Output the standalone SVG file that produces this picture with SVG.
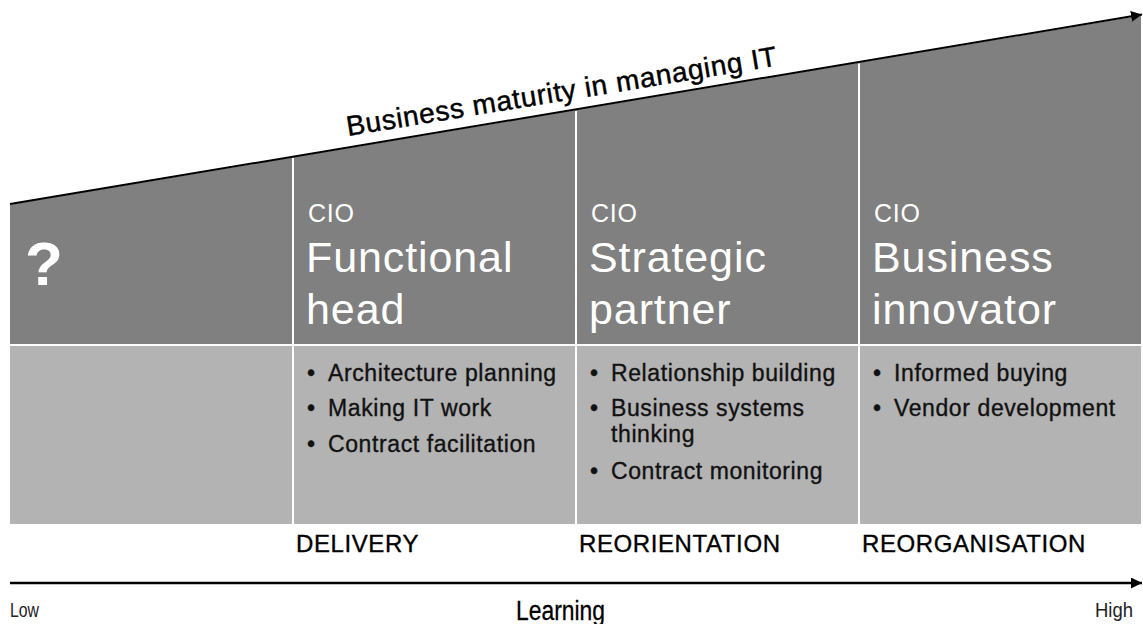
<svg xmlns="http://www.w3.org/2000/svg" width="1143" height="624" viewBox="0 0 1143 624">
<defs>
<marker id="ah" markerUnits="userSpaceOnUse" markerWidth="12" markerHeight="11" refX="11" refY="5.5" orient="auto">
<path d="M0,0 L11,5.5 L0,11 z" fill="#000"/>
</marker>
<style>
text{font-family:"Liberation Sans",Arial,Helvetica,sans-serif}
.w{fill:#fff}
.cio{font-size:25px;letter-spacing:0.8px}
.hd{font-size:43px;letter-spacing:0.9px}
.bl{font-size:23px;fill:#111;letter-spacing:0.6px;stroke:#111;stroke-width:0.35px}
.lb{font-size:24px;fill:#000;letter-spacing:0.6px;stroke:#000;stroke-width:0.35px}
.div{stroke:#fff;stroke-width:2}
.ax{stroke:#000;fill:none}
</style>
</defs>
<rect width="1143" height="624" fill="#fff"/>
<g id="band">
<polygon points="10,204.5 1141,15.5 1141,344 10,344" fill="#808080"/>
<rect x="10" y="346" width="1131" height="178" fill="#b3b3b3"/>
<line class="div" x1="293" y1="158" x2="293" y2="524"/>
<line class="div" x1="576" y1="111" x2="576" y2="524"/>
<line class="div" x1="859" y1="63.5" x2="859" y2="524"/>
</g>
<g id="connectors">
<line class="ax" x1="10" y1="204" x2="1142" y2="14.6" stroke-width="2" marker-end="url(#ah)"/>
<line class="ax" x1="10" y1="583" x2="1142" y2="583" stroke-width="2.5" marker-end="url(#ah)"/>
</g>
<g id="title">
<text transform="translate(348,136) rotate(-9.3)" font-size="28" letter-spacing="0.7" fill="#000" stroke="#000" stroke-width="0.45">Business maturity in managing IT</text>
</g>
<g id="unknown">
<text class="w" x="25" y="285" font-size="62" font-weight="bold">?</text>
</g>
<g id="functional-head">
<text class="w cio" x="308" y="222">CIO</text>
<text class="w hd" x="306" y="272">Functional</text>
<text class="w hd" x="306" y="324">head</text>
<text class="bl" x="307" y="381">•</text><text class="bl" x="328" y="381">Architecture planning</text>
<text class="bl" x="307" y="416">•</text><text class="bl" x="328" y="416">Making IT work</text>
<text class="bl" x="307" y="452">•</text><text class="bl" x="328" y="452">Contract facilitation</text>
<text class="lb" x="296" y="552">DELIVERY</text>
</g>
<g id="strategic-partner">
<text class="w cio" x="591" y="222">CIO</text>
<text class="w hd" x="589" y="272">Strategic</text>
<text class="w hd" x="589" y="324">partner</text>
<text class="bl" x="590" y="381">•</text><text class="bl" x="611" y="381">Relationship building</text>
<text class="bl" x="590" y="416">•</text><text class="bl" x="611" y="416">Business systems</text>
<text class="bl" x="611" y="442">thinking</text>
<text class="bl" x="590" y="479">•</text><text class="bl" x="611" y="479">Contract monitoring</text>
<text class="lb" x="579" y="552">REORIENTATION</text>
</g>
<g id="business-innovator">
<text class="w cio" x="874" y="222">CIO</text>
<text class="w hd" x="872" y="272">Business</text>
<text class="w hd" x="872" y="324">innovator</text>
<text class="bl" x="873" y="381">•</text><text class="bl" x="894" y="381">Informed buying</text>
<text class="bl" x="873" y="416">•</text><text class="bl" x="894" y="416">Vendor development</text>
<text class="lb" x="862" y="552">REORGANISATION</text>
</g>
<g id="learning-axis">
<text x="10" y="617" font-size="20" fill="#222" textLength="29" lengthAdjust="spacingAndGlyphs">Low</text>
<text x="516" y="620" font-size="27" fill="#000" textLength="89" lengthAdjust="spacingAndGlyphs" stroke="#000" stroke-width="0.3">Learning</text>
<text x="1095" y="617" font-size="20" fill="#222" textLength="38" lengthAdjust="spacingAndGlyphs">High</text>
</g>
</svg>
